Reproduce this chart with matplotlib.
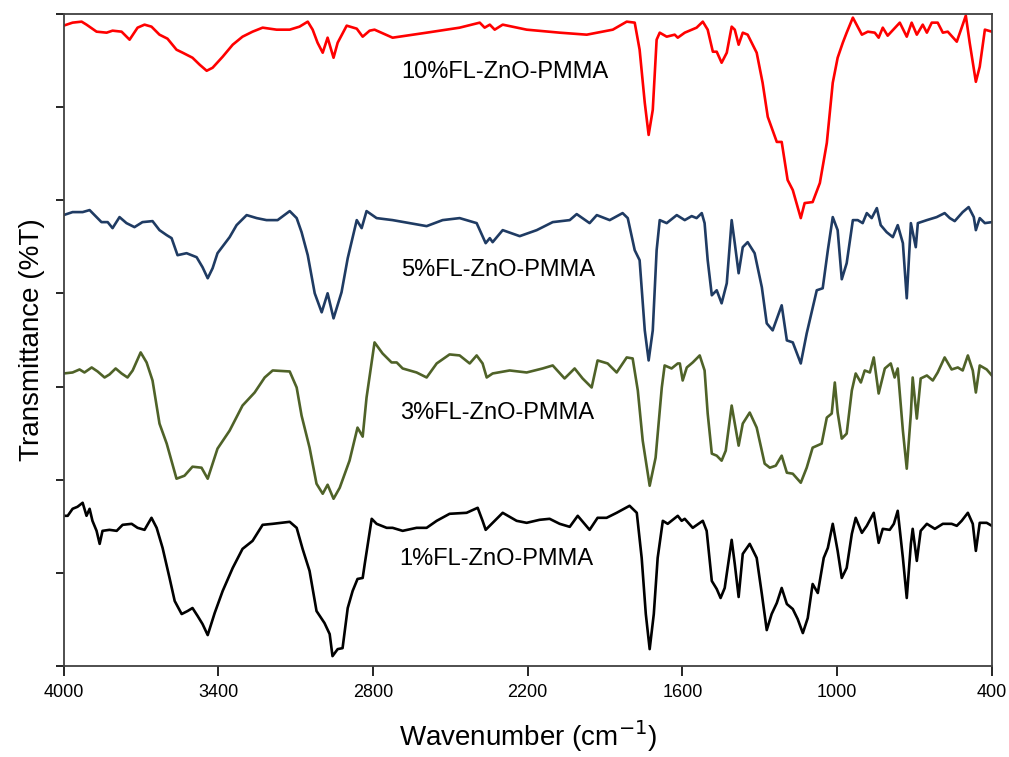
import matplotlib.pyplot as plt

# FTIR spectra of FL-ZnO-PMMA films (stacked, arbitrary transmittance units)

# 10% FL-ZnO-PMMA
wn_10 = [4000, 3965, 3930, 3911, 3872, 3833, 3810, 3775, 3744, 3713, 3686, 3659, 3628, 3597,
         3562, 3538, 3500, 3472, 3445, 3422, 3383, 3344, 3306, 3267, 3228, 3174, 3123, 3085,
         3053, 3034, 3015, 2995, 2976, 2953, 2937, 2902, 2863, 2840, 2813, 2794, 2724, 2592,
         2464, 2386, 2367, 2347, 2328, 2297, 2204, 2076, 1971, 1870, 1816, 1785, 1766, 1746,
         1731, 1715, 1700, 1688, 1661, 1630, 1618, 1591, 1545, 1521, 1502, 1482, 1467, 1448,
         1428, 1409, 1397, 1382, 1366, 1347, 1312, 1289, 1269, 1234, 1215, 1192, 1172, 1141,
         1126, 1095, 1067, 1040, 1017, 998, 978, 963, 939, 904, 881, 854, 839, 823, 804, 757,
         730, 711, 691, 668, 652, 633, 610, 590, 571, 536, 517, 501, 486, 462, 447, 427, 400]
t_10 = [639, 642, 643, 640, 633, 632, 634, 633, 625, 637, 640, 638, 630, 626,
        615, 612, 607, 600, 594, 597, 608, 620, 628, 633, 637, 635, 635, 638,
        643, 635, 622, 612, 627, 607, 622, 639, 636, 628, 634, 635, 627, 632,
        637, 642, 637, 640, 635, 640, 635, 632, 630, 635, 643, 642, 615, 562,
        530, 555, 625, 632, 628, 630, 627, 632, 637, 643, 635, 613, 613, 602,
        612, 638, 635, 620, 632, 630, 612, 582, 548, 523, 523, 485, 475, 447,
        462, 463, 482, 522, 582, 607, 622, 632, 647, 630, 633, 632, 627, 637, 629, 642,
        628, 642, 630, 640, 632, 642, 642, 632, 633, 623, 637, 649, 622, 583, 598, 635, 633]

# 5% FL-ZnO-PMMA
wn_5 = [4000, 3965, 3926, 3899, 3872, 3853, 3829, 3810, 3783, 3756, 3725, 3694, 3655, 3628,
        3600, 3581, 3558, 3523, 3484, 3461, 3441, 3422, 3403, 3356, 3329, 3290, 3251, 3213,
        3170, 3123, 3096, 3077, 3053, 3026, 2999, 2976, 2953, 2922, 2898, 2863, 2844, 2825,
        2786, 2724, 2658, 2592, 2530, 2464, 2398, 2363, 2347, 2336, 2297, 2231, 2165, 2103,
        2037, 2010, 1960, 1932, 1882, 1832, 1812, 1785, 1766, 1746, 1731, 1715, 1700, 1688,
        1661, 1622, 1591, 1564, 1545, 1525, 1514, 1502, 1486, 1467, 1448, 1428, 1409, 1397,
        1382, 1366, 1347, 1320, 1292, 1273, 1250, 1215, 1195, 1172, 1141, 1118, 1079, 1056,
        1036, 1017, 998, 982, 963, 939, 920, 901, 885, 866, 846, 831, 808, 784, 765, 745,
        730, 714, 695, 687, 652, 614, 583, 563, 544, 513, 490, 470, 462, 447, 427, 400]
t_5 = [450, 453, 453, 455, 448, 443, 443, 437, 448, 442, 438, 443, 444, 435,
       430, 427, 410, 412, 408, 398, 387, 397, 412, 428, 440, 450, 447, 445,
       445, 454, 447, 433, 410, 372, 353, 372, 347, 373, 407, 445, 437, 454,
       447, 445, 442, 439, 445, 447, 442, 422, 427, 423, 435, 429, 435, 443,
       445, 451, 442, 450, 445, 452, 447, 415, 405, 335, 305, 335, 415, 445,
       442, 450, 445, 449, 447, 452, 442, 405, 370, 375, 362, 382, 445, 422,
       392, 418, 423, 412, 378, 342, 335, 360, 325, 323, 302, 332, 375, 377,
       415, 448, 435, 386, 402, 445, 445, 442, 452, 447, 457, 440, 433, 428, 440, 422,
       367, 442, 418, 442, 445, 448, 452, 447, 444, 453, 458, 448, 435, 447, 442, 443]

# 3% FL-ZnO-PMMA
wn_3 = [4000, 3965, 3938, 3919, 3891, 3868, 3841, 3822, 3798, 3775, 3752, 3732, 3701, 3678,
        3655, 3628, 3600, 3562, 3531, 3500, 3465, 3441, 3403, 3356, 3306, 3259, 3220, 3189,
        3123, 3096, 3077, 3046, 3019, 2995, 2976, 2953, 2929, 2891, 2860, 2840, 2825, 2794,
        2763, 2728, 2708, 2685, 2631, 2592, 2553, 2503, 2464, 2425, 2398, 2375, 2359, 2336,
        2270, 2204, 2142, 2103, 2057, 2018, 1987, 1952, 1929, 1890, 1855, 1816, 1793, 1773,
        1754, 1727, 1704, 1680, 1669, 1642, 1618, 1610, 1599, 1583, 1560, 1533, 1514, 1502,
        1486, 1467, 1448, 1432, 1409, 1397, 1382, 1366, 1339, 1312, 1281, 1261, 1238, 1215,
        1195, 1172, 1141, 1118, 1095, 1060, 1040, 1021, 1009, 998, 982, 963, 943, 928, 908,
        893, 873, 858, 839, 815, 792, 777, 765, 745, 730, 714, 707, 691, 676, 652, 629, 610,
        583, 556, 532, 513, 493, 474, 462, 447, 420, 400]
t_3 = [292, 293, 296, 293, 298, 294, 288, 291, 297, 292, 288, 295, 313, 303,
       285, 242, 222, 187, 190, 199, 198, 187, 217, 235, 260, 273, 288, 295,
       294, 278, 250, 218, 182, 172, 181, 167, 178, 205, 238, 229, 268, 323,
       312, 303, 303, 297, 293, 288, 302, 311, 310, 302, 310, 302, 288, 292,
       295, 293, 297, 300, 287, 297, 287, 278, 305, 302, 293, 308, 307, 275,
       225, 180, 208, 278, 300, 297, 302, 302, 285, 298, 303, 310, 295, 252,
       212, 210, 205, 215, 260, 242, 220, 242, 253, 238, 202, 198, 200, 210,
       193, 192, 183, 198, 218, 222, 248, 252, 283, 253, 227, 232, 275, 292, 283,
       295, 293, 308, 272, 297, 302, 288, 297, 235, 197, 252, 288, 247, 287, 290, 285, 293,
       308, 296, 298, 295, 310, 295, 273, 300, 296, 290]

# 1% FL-ZnO-PMMA
wn_1 = [4000, 3984, 3965, 3946, 3926, 3911, 3899, 3888, 3872, 3860, 3849, 3822, 3794, 3771,
        3736, 3713, 3686, 3659, 3639, 3616, 3589, 3569, 3542, 3519, 3500, 3480, 3461, 3441,
        3414, 3383, 3344, 3306, 3267, 3228, 3189, 3123, 3096, 3073, 3046, 3019, 2988, 2968,
        2957, 2937, 2918, 2898, 2879, 2860, 2840, 2832, 2805, 2786, 2747, 2724, 2685, 2631,
        2592, 2553, 2503, 2437, 2394, 2375, 2363, 2336, 2297, 2243, 2204, 2154, 2115, 2076,
        2037, 2006, 1960, 1929, 1894, 1855, 1805, 1777, 1758, 1742, 1727, 1711, 1696, 1676,
        1657, 1618, 1603, 1591, 1560, 1521, 1506, 1486, 1467, 1452, 1436, 1409, 1397, 1382,
        1366, 1339, 1312, 1292, 1273, 1254, 1234, 1215, 1195, 1172, 1153, 1133, 1114, 1095,
        1075, 1052, 1036, 1017, 998, 982, 963, 943, 928, 904, 885, 858, 839, 823, 796, 780,
        765, 745, 730, 714, 707, 691, 676, 652, 621, 590, 556, 536, 517, 493, 474, 462, 447,
        420, 400]
t_1 = [150, 150, 157, 159, 163, 150, 157, 145, 135, 122, 135, 136, 135, 141,
       142, 138, 136, 148, 138, 118, 88, 65, 52, 55, 58, 50, 42, 31,
       53, 75, 98, 117, 125, 141, 142, 144, 138, 117, 95, 55, 43, 32,
       10, 17, 18, 58, 75, 87, 88, 102, 147, 142, 138, 138, 135, 138,
       138, 145, 152, 153, 158, 145, 136, 143, 153, 145, 143, 146, 147, 142,
       139, 150, 136, 148, 148, 153, 160, 153, 108, 52, 17, 52, 108, 145,
       142, 150, 145, 147, 138, 145, 135, 85, 77, 68, 78, 126, 102, 69,
       112, 122, 108, 72, 36, 52, 63, 78, 62, 57, 47, 33, 48, 82,
       73, 108, 118, 142, 115, 88, 98, 132, 148, 133, 140, 153, 123, 137, 136, 142,
       155, 108, 68, 122, 137, 105, 135, 142, 137, 142, 142, 140, 145, 153, 142, 115, 143,
       143, 140]

labels = ["10%FL-ZnO-PMMA", "5%FL-ZnO-PMMA", "3%FL-ZnO-PMMA", "1%FL-ZnO-PMMA"]
colors = ["#FF0000", "#1F3B63", "#4F6228", "#000000"]

plt.rcParams['font.family'] = ['Liberation Sans', 'DejaVu Sans']

fig = plt.figure(figsize=(10.09, 7.57), dpi=100)
ax = fig.add_axes([0.063, 0.12, 0.92, 0.862])

series = [(wn_10, t_10), (wn_5, t_5), (wn_3, t_3), (wn_1, t_1)]
for (x, y), c in zip(series, colors):
    ax.plot(x, y, color=c, linewidth=1.9)

# curve labels
ax.text(2290, 593, labels[0], ha='center', va='center', fontsize=17)
ax.text(2313, 395, labels[1], ha='center', va='center', fontsize=17)
ax.text(2320, 253, labels[2], ha='center', va='center', fontsize=17)
ax.text(2320, 107, labels[3], ha='center', va='center', fontsize=17)

ax.set_xlim(4000, 400)
ax.set_ylim(0, 651)
ax.set_xticks([4000, 3400, 2800, 2200, 1600, 1000, 400])
ax.set_yticks([i * 93 for i in range(8)])
ax.set_yticklabels([])
ax.tick_params(axis='x', direction='out', length=7, width=1.2, labelsize=13, pad=6)
ax.tick_params(axis='y', direction='out', length=6, width=1.2)
for s in ax.spines.values():
    s.set_color('#404040')
    s.set_linewidth(1.3)

ax.set_xlabel("Wavenumber (cm$^{-1}$)", fontsize=20, labelpad=12)
ax.set_ylabel("Transmittance (%T)", fontsize=20, labelpad=4)

fig.savefig("out.png", dpi=100)
